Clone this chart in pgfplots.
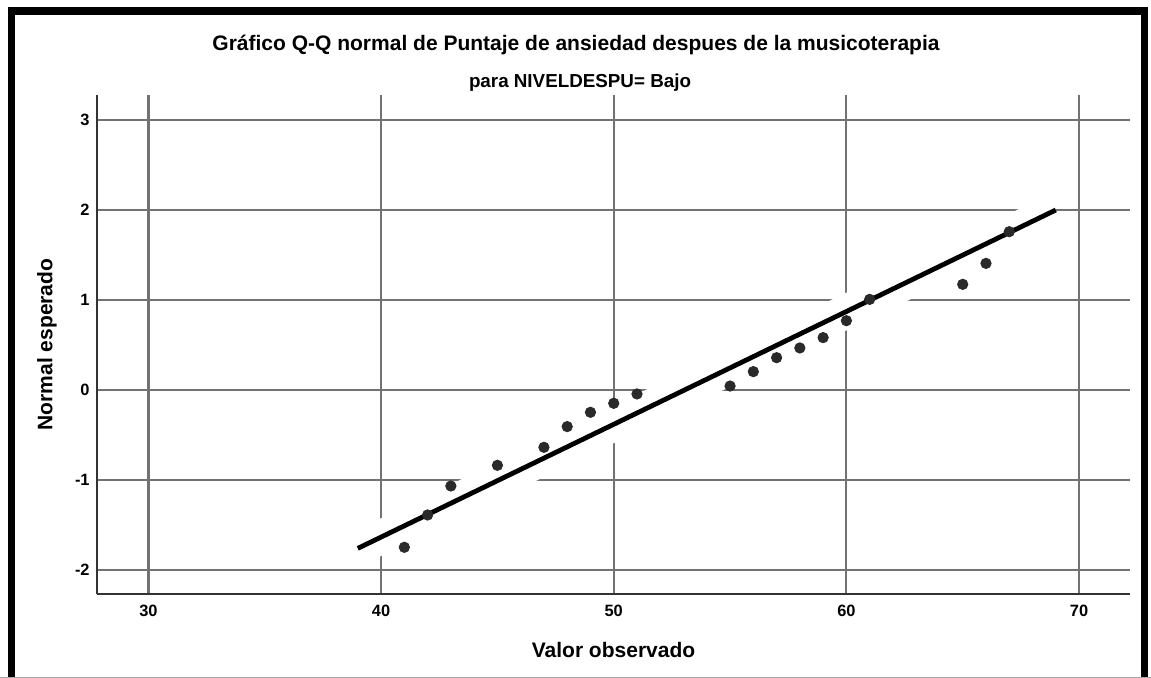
\documentclass[border=0pt]{standalone}
\usepackage{pgfplots}
\pgfplotsset{compat=1.18}
\usepackage{fontspec}
\setmainfont{Liberation Sans}
\definecolor{pt}{HTML}{2A2A2A}
\definecolor{grd}{HTML}{727272}
\definecolor{spn}{HTML}{333333}
\begin{document}
\begin{tikzpicture}
\useasboundingbox (0,0) rectangle (575.5bp,339bp);
\begin{axis}[
  at={(48.5bp,42bp)}, anchor=south west,
  scale only axis, width=516.5bp, height=249.5bp,
  xmin=27.79, xmax=72.19, ymin=-2.267, ymax=3.278,
  axis x line*=bottom, axis y line*=left,
  axis line style={-, spn, line width=1.4bp},
  xtick={30,40,50,60,70}, ytick={-2,-1,0,1,2,3},
  major tick length=0pt,
  grid=major,
  major grid style={grd, line width=1.1bp},
  /pgf/number format/assume math mode=true,
  tick label style={font=\fontsize{8.2bp}{9bp}\selectfont\bfseries, inner sep=0pt, text=black},
  yticklabel style={xshift=-3.5bp},
  xticklabel style={yshift=-5.5bp},
  xlabel={Valor observado},
  ylabel={Normal esperado},
  label style={font=\fontsize{10.5bp}{12bp}\selectfont\bfseries},
  xlabel style={at={(rel axis cs:0.5,0)}, anchor=center, yshift=-28bp},
  ylabel style={at={(axis description cs:-0.0484,0.5)}, anchor=center},
  clip=false,
]
\addplot[white, line width=17bp, forget plot] coordinates {(39,-1.76) (69,2.0)};
\addplot[black, line width=2.4bp, forget plot] coordinates {(39,-1.76) (69,2.0)};
\addplot[only marks, mark=*, mark size=2.6bp, mark options={fill=pt, draw=pt}] coordinates {
(41,-1.748) (42,-1.389) (43,-1.067) (45,-0.837) (47,-0.637) (48,-0.407)
(49,-0.248) (50,-0.148) (51,-0.044) (55,0.044) (56,0.204) (57,0.359)
(58,0.467) (59,0.582) (60,0.770) (61,1.007) (65,1.174) (66,1.407) (67,1.759)
};
\end{axis}
\node[font=\fontsize{10.5bp}{12bp}\selectfont\bfseries] at (288bp,316.5bp) {Gráfico Q-Q normal de Puntaje de ansiedad despues de la musicoterapia};
\node[font=\fontsize{9.4bp}{10bp}\selectfont\bfseries] at (290bp,297.5bp) {para NIVELDESPU= Bajo};
\draw[line width=3.6bp, black] (5.75bp,0bp) -- (5.75bp,333.5bp) -- (572.25bp,333.5bp) -- (572.25bp,0bp);
\draw[line width=0.6bp, gray!70] (0bp,0.4bp) -- (575.5bp,0.4bp);
\end{tikzpicture}
\end{document}
